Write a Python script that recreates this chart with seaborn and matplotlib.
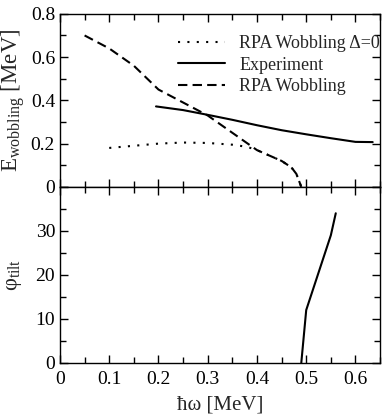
import numpy as np
import pandas as pd
import seaborn as sns
import matplotlib.pyplot as plt
from matplotlib.ticker import MultipleLocator, FuncFormatter

# RPA wobbling energy with pairing gap set to zero (dotted)
omega_delta0 = [0.10, 0.15, 0.20, 0.25, 0.30, 0.35, 0.38, 0.40, 0.45, 0.47, 0.48, 0.49]
e_delta0 = [0.180, 0.190, 0.200, 0.205, 0.203, 0.195, 0.185, 0.170, 0.120, 0.090, 0.060, 0.0]

# experimental wobbling energy (solid)
omega_exp = [0.195, 0.25, 0.30, 0.35, 0.40, 0.45, 0.50, 0.55, 0.60, 0.635]
e_exp = [0.372, 0.355, 0.333, 0.310, 0.285, 0.262, 0.243, 0.225, 0.208, 0.207]

# RPA wobbling energy (dashed)
omega_rpa = [0.05, 0.10, 0.15, 0.20, 0.25, 0.30, 0.35, 0.40, 0.45, 0.47, 0.48, 0.49]
e_rpa = [0.700, 0.640, 0.560, 0.450, 0.390, 0.330, 0.250, 0.170, 0.120, 0.090, 0.060, 0.0]

# tilt angle of the mean field
omega_tilt = [0.49, 0.50, 0.55, 0.56]
phi_tilt = [0.0, 12.0, 29.0, 34.0]

sns.set_style("ticks")
plt.rcParams['font.family'] = ['Liberation Serif', 'DejaVu Serif']
plt.rcParams['mathtext.fontset'] = 'stix'
plt.rcParams['font.size'] = 14


def fmt(v, pos):
    s = f'{v:.1f}'
    return '0' if abs(v) < 1e-9 else s


fig = plt.figure(figsize=(3.82, 4.19), dpi=100)
ax1 = fig.add_axes([0.157, 0.554, 0.838, 0.413])
ax2 = fig.add_axes([0.157, 0.134, 0.838, 0.420])

lw = 1.5
sns.lineplot(x=omega_delta0, y=e_delta0, ax=ax1, color='black', lw=lw,
             linestyle=(0, (1, 3.5)), label='RPA Wobbling Δ=0', sort=False)
sns.lineplot(x=omega_exp, y=e_exp, ax=ax1, color='black', lw=lw,
             label='Experiment', sort=False)
sns.lineplot(x=omega_rpa, y=e_rpa, ax=ax1, color='black', lw=lw,
             linestyle=(0, (4.5, 2.5)), label='RPA Wobbling', sort=False)
sns.lineplot(x=omega_tilt, y=phi_tilt, ax=ax2, color='black', lw=lw, sort=False)

ax1.set_xlim(0, 0.65)
ax1.set_ylim(0, 0.8)
ax2.set_xlim(0, 0.65)
ax2.set_ylim(0, 40)

ax1.yaxis.set_major_locator(MultipleLocator(0.2))
ax1.yaxis.set_minor_locator(MultipleLocator(0.1))
ax1.yaxis.set_major_formatter(FuncFormatter(fmt))
ax2.yaxis.set_major_locator(MultipleLocator(10))
ax2.yaxis.set_minor_locator(MultipleLocator(5))
ax2.yaxis.set_major_formatter(FuncFormatter(lambda v, p: '' if v > 35 else f'{v:.0f}'))

for ax in (ax1, ax2):
    ax.xaxis.set_major_locator(MultipleLocator(0.1))
    ax.xaxis.set_minor_locator(MultipleLocator(0.05))
    ax.xaxis.set_major_formatter(FuncFormatter(fmt))
    ax.tick_params(which='both', direction='in', top=True, right=True,
                   width=1.0, labelsize=14, colors='black')
    ax.tick_params(which='major', length=6)
    ax.tick_params(which='minor', length=4)
    for sp in ax.spines.values():
        sp.set_visible(True)
        sp.set_linewidth(1.0)
        sp.set_color('black')
ax1.tick_params(labelbottom=False)
ax2.tick_params(axis='x', pad=6)

ax1.set_ylabel(r'$\mathregular{E_{wobbling}}$ [MeV]', fontsize=16.5, labelpad=3)
ax2.set_ylabel(r'$\mathregular{φ_{tilt}}$', fontsize=16, labelpad=8)
ax2.set_xlabel('ħω [MeV]', fontsize=15, labelpad=5)

ax1.legend(loc='upper right', bbox_to_anchor=(1.05, 0.97), frameon=False,
           handlelength=2.6, handletextpad=0.8, labelspacing=0.25, fontsize=13)

fig.savefig('out.png', dpi=100)
